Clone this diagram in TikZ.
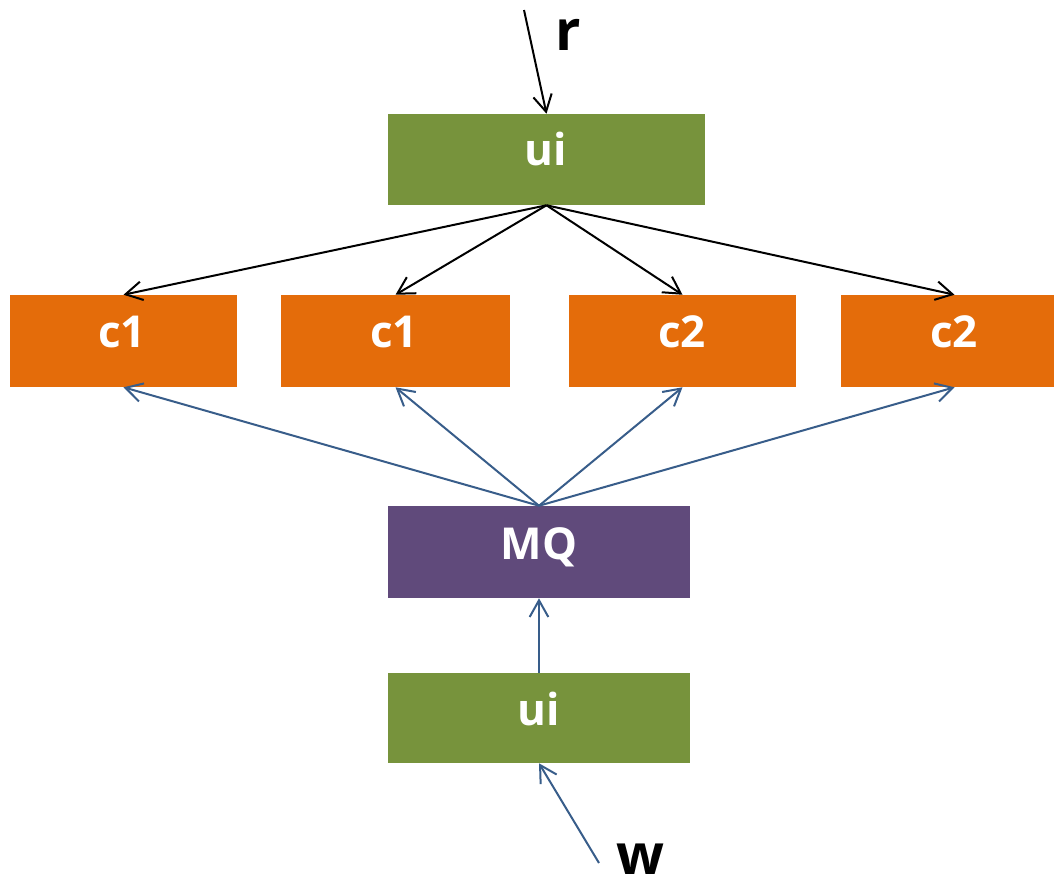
\documentclass[tikz,border=0pt]{standalone}
\usepackage{fontspec}
\setmainfont{Open Sans}
\usetikzlibrary{arrows.meta}
\definecolor{boxgreen}{HTML}{77933C}
\definecolor{boxorange}{HTML}{E46C0A}
\definecolor{boxpurple}{HTML}{604A7B}
\definecolor{arrblue}{HTML}{385D8A}
\tikzset{
  px/.style={x=0.75pt,y=-0.75pt},
  boxstyle/.style={draw=none,minimum width=#1*0.75pt,minimum height=92*0.75pt,inner sep=0pt},
  greenbox/.style={boxstyle=#1,fill=boxgreen},
  orangebox/.style={boxstyle=#1,fill=boxorange},
  purplebox/.style={boxstyle=#1,fill=boxpurple},
  boxtext/.style={anchor=base,text=white,font=\fontsize{33}{40}\selectfont\bfseries,inner sep=0pt},
  bigtext/.style={anchor=base,text=black,font=\fontsize{42}{50}\selectfont\bfseries,inner sep=0pt},
  blackarr/.style={draw=black,line width=1.5pt,-{Straight Barb[length=12.5pt,width=14pt,line width=1.5pt]}},
  bluearr/.style={draw=arrblue,line width=1.5pt,-{Straight Barb[length=12.5pt,width=14pt,line width=1.5pt]}},
}
\begin{document}
\begin{tikzpicture}[px]
\useasboundingbox (0,0) rectangle (1054,883);
\clip (0,0) rectangle (1054,883);
% boxes
\node[greenbox=317,minimum height=91*0.75pt] (uitop) at (546.5,159.5) {};
\node[orangebox=227] (ca) at (123.5,341) {};
\node[orangebox=229] (cb) at (395.5,341) {};
\node[orangebox=227] (cc) at (682.5,341) {};
\node[orangebox=227] (cd) at (954.5,341) {};
\node[purplebox=302] (mq) at (539,552) {};
\node[greenbox=302,minimum height=90*0.75pt] (uibot) at (539,718) {};
% texts
\node[boxtext] (tuitop) at (546,165) {ui};
\node[boxtext] (tca) at (122,347) {c1};
\node[boxtext] (tcb) at (394,347) {c1};
\node[boxtext] (tcc) at (682,347) {c2};
\node[boxtext] (tcd) at (954,347) {c2};
\node[boxtext] (tmq) at (539,559) {MQ};
\node[boxtext] (tuibot) at (539,725) {ui};
\node[bigtext] (r) at (568,50) {r};
\node[bigtext] (w) at (640,874) {w};
% free ends
\coordinate (rstart) at (524,10);
\coordinate (wstart) at (599,863);
% arrows
\draw[blackarr] (rstart) -- (uitop.north);
\draw[blackarr] (uitop.south) -- (ca.north);
\draw[blackarr] (uitop.south) -- (cb.north);
\draw[blackarr] (uitop.south) -- (cc.north);
\draw[blackarr] (uitop.south) -- (cd.north);
\draw[bluearr] (mq.north) -- (ca.south);
\draw[bluearr] (mq.north) -- (cb.south);
\draw[bluearr] (mq.north) -- (cc.south);
\draw[bluearr] (mq.north) -- (cd.south);
\draw[bluearr] (uibot.north) -- (mq.south);
\draw[bluearr] (wstart) -- (uibot.south);
\end{tikzpicture}
\end{document}
